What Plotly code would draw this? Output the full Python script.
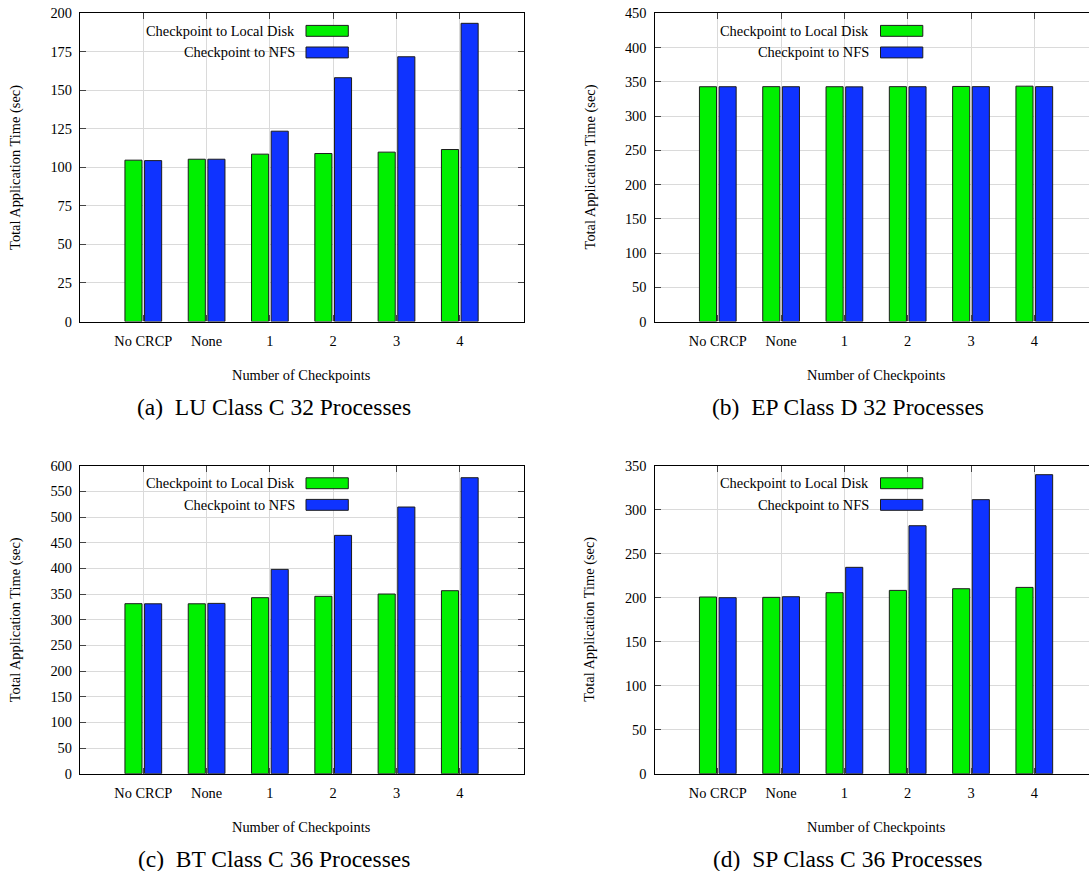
import plotly.graph_objects as go

# ---------------- data ----------------
categories = ["No CRCP", "None", "1", "2", "3", "4"]
series_names = ["Checkpoint to Local Disk", "Checkpoint to NFS"]

lu_local = [104.7, 105.3, 108.6, 109.0, 109.9, 111.6]
lu_nfs = [104.4, 105.3, 123.5, 158.2, 171.8, 193.5]

ep_local = [342.8, 342.9, 342.8, 342.9, 343.2, 343.6]
ep_nfs = [342.8, 342.8, 342.6, 342.8, 342.9, 342.9]

bt_local = [331.2, 331.0, 342.9, 345.5, 350.0, 356.5]
bt_nfs = [331.0, 331.8, 398.0, 464.3, 519.5, 576.6]

sp_local = [200.8, 200.4, 205.7, 208.3, 210.2, 211.7]
sp_nfs = [200.0, 201.1, 234.5, 281.8, 311.4, 339.8]

captions = ["(a)\u00a0 LU Class C 32 Processes", "(b)\u00a0 EP Class D 32 Processes",
            "(c)\u00a0 BT Class C 36 Processes", "(d)\u00a0 SP Class C 36 Processes"]
y_max = [200, 450, 600, 350]
y_step = [25, 50, 50, 50]
x_title = "Number of Checkpoints"
y_title = "Total Application Time (sec)"

# ---------------- layout geometry (pixels) ----------------
W, H = 1089, 871
FONT = "Liberation Serif"
GREEN = "#00f000"
BLUE = "#0f33ff"
EDGE = "#1c1c1c"
GRID = "#dadada"
UNIT = 63.3  # px per category

panels = [
    dict(left=80.0, right=524.0, top=13.3, bottom=321.5, local=lu_local, nfs=lu_nfs, mirror_y=True),
    dict(left=654.5, right=1089.0, top=13.3, bottom=321.5, local=ep_local, nfs=ep_nfs, mirror_y=False),
    dict(left=80.0, right=524.0, top=465.7, bottom=773.7, local=bt_local, nfs=bt_nfs, mirror_y=True),
    dict(left=654.5, right=1089.0, top=465.7, bottom=773.7, local=sp_local, nfs=sp_nfs, mirror_y=False),
]


def px(x):
    return x / W


def py(y):
    return 1 - y / H


fig = go.Figure()
shapes = []
annotations = []

for i, p in enumerate(panels):
    n = "" if i == 0 else str(i + 1)
    xa, ya = "x" + n, "y" + n
    fig.add_trace(go.Bar(x=categories, y=p["local"], name=series_names[0], xaxis=xa, yaxis=ya,
                         offset=-0.29, width=0.27, marker=dict(color=GREEN, line=dict(color=EDGE, width=1)),
                         showlegend=False))
    fig.add_trace(go.Bar(x=categories, y=p["nfs"], name=series_names[1], xaxis=xa, yaxis=ya,
                         offset=0.02, width=0.27, marker=dict(color=BLUE, line=dict(color=EDGE, width=1)),
                         showlegend=False))

    xr_max = -1 + (p["right"] - p["left"]) / UNIT
    axis_common = dict(showline=True, linecolor="black", linewidth=1.3, ticks="inside", ticklen=6,
                       tickwidth=1, tickcolor="#444444", showgrid=True, gridcolor=GRID, gridwidth=1.2,
                       zeroline=False, automargin=False,
                       tickfont=dict(family=FONT, size=14.4, color="black"))
    fig.layout["xaxis" + n] = dict(axis_common, domain=[px(p["left"]), px(p["right"])],
                                   anchor=ya, type="category", range=[-1, xr_max],
                                   mirror="ticks", ticklabelstandoff=6)
    fig.layout["yaxis" + n] = dict(axis_common, domain=[py(p["bottom"]), py(p["top"])],
                                   anchor=xa, range=[0, y_max[i]], dtick=y_step[i], tick0=0,
                                   mirror="ticks" if p["mirror_y"] else False, ticklabelstandoff=4)

    # legend (gnuplot style: text left, swatch right)
    L, T = p["left"], p["top"]
    shapes.append(dict(type="rect", xref="paper", yref="paper", layer="between",
                       x0=px(L + 0.8), x1=px(L + 276.7), y0=py(T + 50), y1=py(T + 0.8),
                       fillcolor="white", line=dict(width=0)))
    for k, (col, ty) in enumerate([(GREEN, 17.4), (BLUE, 39.0)]):
        shapes.append(dict(type="rect", xref="paper", yref="paper", layer="above",
                           x0=px(L + 226), x1=px(L + 268.3), y0=py(T + ty + 5.6), y1=py(T + ty - 5.3),
                           fillcolor=col, line=dict(color=EDGE, width=1)))
        annotations.append(dict(text=series_names[k], xref="paper", yref="paper", x=px(L + 216.7),
                                y=py(T + ty), xanchor="right", yanchor="middle", showarrow=False,
                                font=dict(family=FONT, size=14.4, color="black")))

    cx = p["left"] + 3.5 * UNIT
    annotations.append(dict(text=x_title, xref="paper", yref="paper", x=px(cx), y=py(p["bottom"] + 53.5),
                            xanchor="center", yanchor="middle", showarrow=False,
                            font=dict(family=FONT, size=14.4, color="black")))
    annotations.append(dict(text=y_title, xref="paper", yref="paper", x=px(p["left"] - 64.5),
                            y=py((p["top"] + p["bottom"]) / 2), xanchor="center", yanchor="middle",
                            textangle=-90, showarrow=False,
                            font=dict(family=FONT, size=14.4, color="black")))
    annotations.append(dict(text=captions[i], xref="paper", yref="paper", x=px(p["left"] + 193.5),
                            y=py(p["bottom"] + 85.5), xanchor="center", yanchor="middle", showarrow=False,
                            font=dict(family=FONT, size=23.5, color="black")))

fig.update_layout(width=W, height=H, margin=dict(l=0, r=0, t=0, b=0, pad=0, autoexpand=False),
                  plot_bgcolor="white", paper_bgcolor="white", barmode="overlay",
                  shapes=shapes, annotations=annotations,
                  font=dict(family=FONT, color="black"))

fig.write_html("out.html", config={"displayModeBar": False})
